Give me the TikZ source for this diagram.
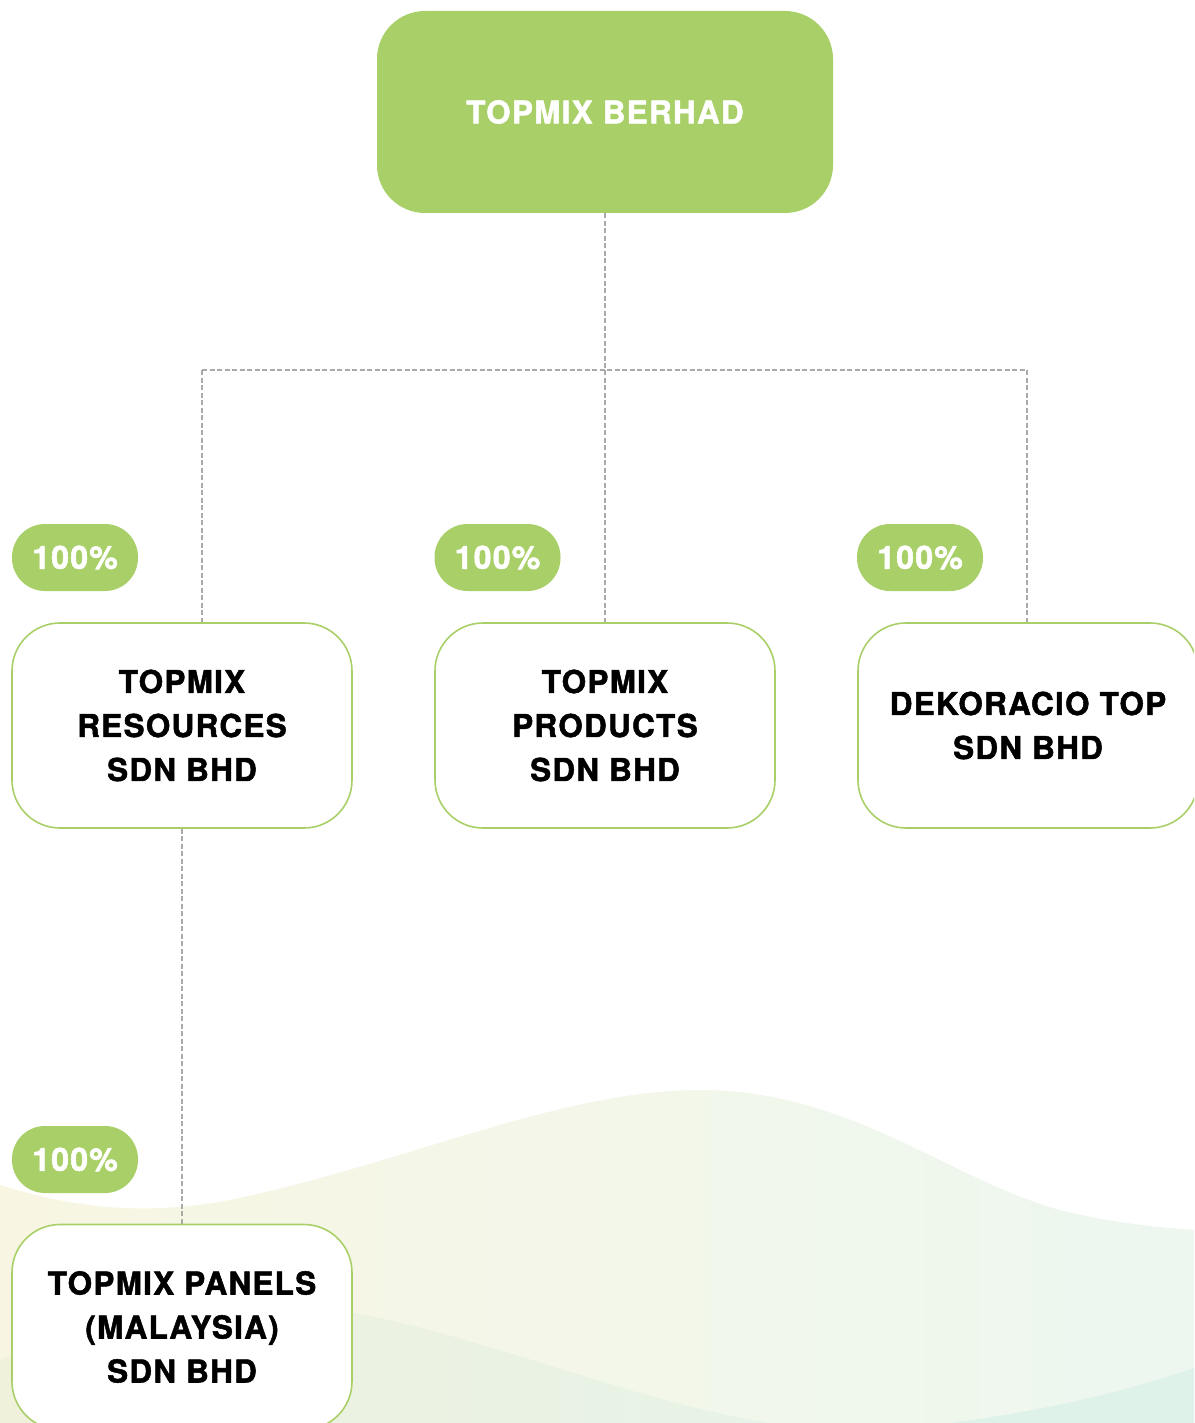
\documentclass[tikz,border=0pt]{standalone}
\usepackage{fontspec}
\setmainfont{TeX Gyre Heros}[LetterSpace=4, BoldFeatures={FakeBold=1.6}]
\usepackage{tikz}
\usetikzlibrary{positioning}

\definecolor{leaf}{RGB}{169,208,104}
\definecolor{linkgray}{RGB}{170,170,170}
\definecolor{waveA}{RGB}{248,246,226}
\definecolor{waveB}{RGB}{237,247,240}
\definecolor{waveC}{RGB}{240,241,219}
\definecolor{waveD}{RGB}{231,243,232}
\definecolor{waveE}{RGB}{222,242,233}

\begin{document}
\begin{tikzpicture}[
		x=1pt, y=-1pt,
		topbox/.style={
			fill=leaf,
			rounded corners=48pt,
			align=center,
			text=white,
			font=\bfseries\fontsize{31.5}{44}\selectfont,
			minimum height=202pt,
			minimum width=456pt
		},
		subbox/.style={
			draw=leaf,
			line width=1.6pt,
			fill=white,
			rounded corners=48pt,
			align=center,
			font=\bfseries\fontsize{31.5}{44}\selectfont,
			minimum height=205pt,
			minimum width=340pt
		},
		share/.style={
			fill=leaf,
			rounded corners=33pt,
			text=white,
			font=\bfseries\fontsize{32}{36}\selectfont,
			minimum height=67pt,
			minimum width=126pt
		},
		link/.style={draw=linkgray, line width=1.5pt, dash pattern=on 5pt off 2.5pt}
		]
		
		\clip (0,0) rectangle (1194,1423);
		\fill[white] (0,0) rectangle (1194,1423);
		
		% Background waves
		\shade[left color=waveA, right color=waveB]
			(0,1185) .. controls (80,1210) and (150,1215) .. (230,1200)
			.. controls (400,1165) and (560,1090) .. (700,1090)
			.. controls (850,1090) and (950,1180) .. (1060,1210)
			.. controls (1120,1225) and (1170,1228) .. (1194,1230)
			-- (1194,1423) -- (0,1423) -- cycle;
		\shade[left color=waveC, right color=waveD]
			(0,1360) .. controls (80,1330) and (180,1295) .. (300,1305)
			.. controls (450,1320) and (620,1400) .. (770,1423)
			-- (0,1423) -- cycle;
		\fill[waveE] (950,1423) .. controls (1050,1410) and (1130,1390) .. (1194,1368)
			-- (1194,1423) -- cycle;
		
		% Dashed links
		\coordinate (bus) at (605,370);
		\coordinate (busleft) at (202,370);
		\coordinate (busright) at (1027,370);
		
		% Blocks
		\node[topbox] at (605,112) (berhad) {TOPMIX BERHAD};
		\node[subbox] at (182,725.5) (resources) {TOPMIX\\RESOURCES\\SDN BHD};
		\node[subbox] at (605,725.5) (products) {TOPMIX\\PRODUCTS\\SDN BHD};
		\node[subbox] at (1028,725.5) (dekoracio) {DEKORACIO TOP\\SDN BHD};
		\node[subbox] at (182,1327) (panels) {TOPMIX PANELS\\(MALAYSIA)\\SDN BHD};
		
		% Shareholdings
		\node[share] at (75,557.5) (pctres) {100\%};
		\node[share] at (497.5,557.5) (pctprod) {100\%};
		\node[share] at (920,557.5) (pctdek) {100\%};
		\node[share] at (75,1159.5) (pctpan) {100\%};
		
		% Links
		\draw[link] (berhad.south) -- (bus);
		\draw[link] (busleft) -- (busright);
		\draw[link] (busleft) -- (busleft |- resources.north);
		\draw[link] (bus) -- (products.north);
		\draw[link] (busright) -- (busright |- dekoracio.north);
		\draw[link] (resources.south) -- (panels.north);
		
	\end{tikzpicture}
\end{document}
